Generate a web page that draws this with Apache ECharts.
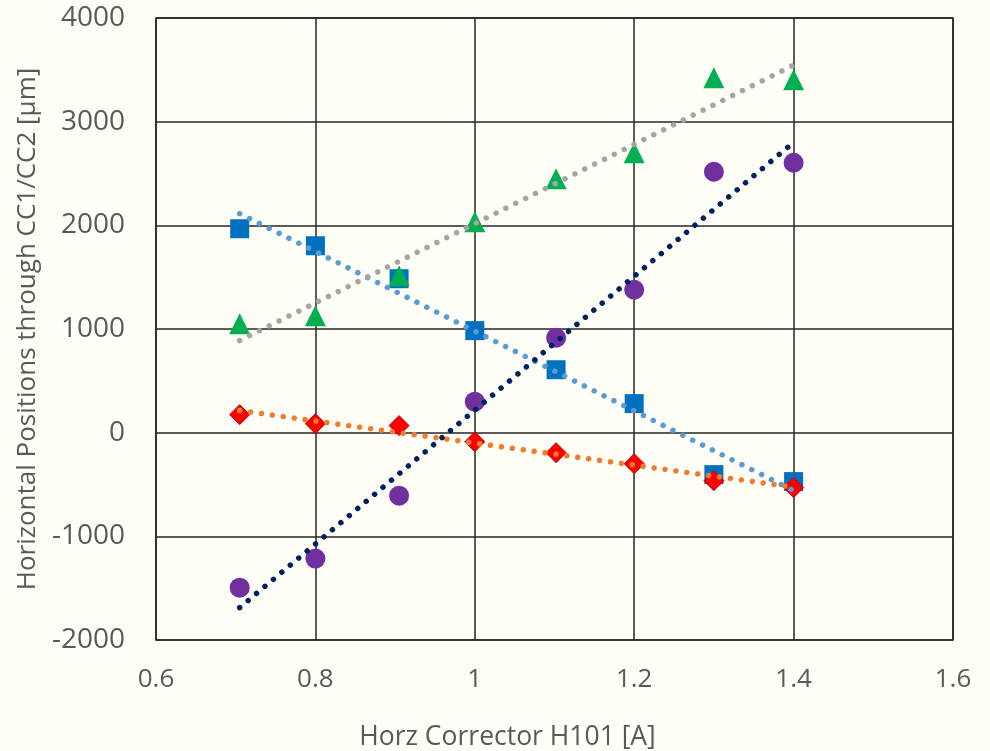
<!DOCTYPE html>
<html><head><meta charset="utf-8">
<script src="https://cdn.jsdelivr.net/npm/echarts@6/dist/echarts.min.js"></script>
<style>html,body{margin:0;padding:0;background:#FFFEF6;}#c{width:990px;height:751px;}</style>
</head><body><div id="c"></div>
<script>
const xValues = [0.705, 0.8, 0.905, 1.0, 1.102, 1.2, 1.3, 1.4];
const squares = [1967, 1803, 1485, 984, 607, 280, -405, -472];
const triangles = [1051, 1128, 1514, 2035, 2450, 2700, 3423, 3404];
const diamonds = [174, 87, 68, -87, -193, -299, -463, -530];
const circles = [-1495, -1215, -608, 299, 916, 1379, 2517, 2604];
const xTicks = [0.6, 0.8, 1, 1.2, 1.4, 1.6];
const yTicks = [-2000, -1000, 0, 1000, 2000, 3000, 4000];

function pairs(ys){ return xValues.map((x,i)=>[x, ys[i]]); }
function fit(ys){
  const n = xValues.length;
  const mx = xValues.reduce((a,b)=>a+b,0)/n;
  const my = ys.reduce((a,b)=>a+b,0)/n;
  let sxy=0, sxx=0;
  for(let i=0;i<n;i++){ sxy+=(xValues[i]-mx)*(ys[i]-my); sxx+=(xValues[i]-mx)**2; }
  const b = sxy/sxx, a = my - b*mx;
  const x0 = xValues[0], x1 = xValues[n-1];
  return [[x0, a+b*x0],[x1, a+b*x1]];
}
function scatter(name, ys, symbol, size, color, border){
  return {name, type:'scatter', data:pairs(ys), symbol, symbolSize:size, z:3,
    itemStyle:{color, borderColor:border||color, borderWidth:border?1:0, opacity:1}};
}
function trend(ys, color){
  return {type:'line', data:fit(ys), symbol:'none', z:4, silent:true,
    lineStyle:{color, width:5.5, type:[0.01, 11], cap:'round'}};
}
const chart = echarts.init(document.getElementById('c'));
const font = '"Open Sans", sans-serif';
chart.setOption({
  backgroundColor:'#FFFEF6',
  animation:false,
  grid:{left:156, right:37, top:18, bottom:111, containLabel:false, outerBoundsMode:'none',
    show:true, borderColor:'#262626', borderWidth:1.5, backgroundColor:'transparent'},
  xAxis:{type:'value', min:0.6, max:1.6, interval:0.2,
    name:'Horz Corrector H101 [A]', nameLocation:'middle', nameGap:84,
    nameTextStyle:{fontFamily:font, fontSize:26.5, color:'#595959', padding:[0,94,0,0]},
    axisLine:{show:false}, axisTick:{show:false},
    axisLabel:{margin:27, fontFamily:font, fontSize:26, color:'#595959',
      formatter:v=>{const t=xTicks.find(t=>Math.abs(t-v)<1e-6); return t===undefined?'':String(t);}},
    splitLine:{show:true, lineStyle:{color:'#262626', width:1.5}}},
  yAxis:{type:'value', min:-2000, max:4000, interval:1000,
    name:'Horizontal Positions through CC1/CC2 [µm]', nameLocation:'middle', nameGap:112,
    nameTextStyle:{fontFamily:font, fontSize:26, color:'#595959'},
    axisLine:{show:false}, axisTick:{show:false},
    axisLabel:{margin:31, fontFamily:font, fontSize:28, color:'#595959',
      formatter:v=>{const t=yTicks.find(t=>t===v); return t===undefined?'':String(t);}},
    splitLine:{show:true, lineStyle:{color:'#262626', width:1.5}}},
  series:[
    scatter('squares', squares, 'rect', 19, '#0070C0'),
    scatter('triangles', triangles, 'triangle', 21, '#00B050'),
    scatter('diamonds', diamonds, 'diamond', 20, '#FF0000', '#C00000'),
    scatter('circles', circles, 'circle', 20, '#7030A0'),
    trend(squares, '#5B9BD5'),
    trend(triangles, '#A5A5A5'),
    trend(diamonds, '#ED7D31'),
    trend(circles, '#002060')
  ]
});
</script></body></html>
